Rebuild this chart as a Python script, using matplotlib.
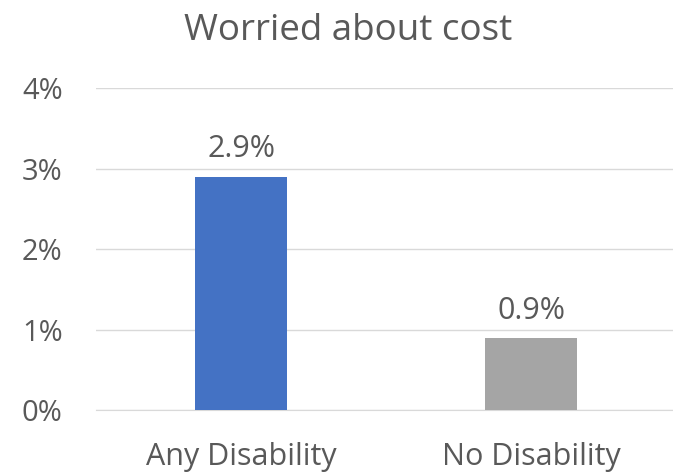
import matplotlib.pyplot as plt
from matplotlib.ticker import PercentFormatter

categories = ["Any Disability", "No Disability"]
values = [0.029, 0.009]
bar_colors = ["#4472C4", "#A5A5A5"]
title = "Worried about cost"

text_color = "#595959"
grid_color = "#D9D9D9"

plt.rcParams['font.family'] = ['Open Sans', 'DejaVu Sans']

fig = plt.figure(figsize=(6.73, 4.73), dpi=100)
ax = fig.add_axes([0.1426, 0.133, 0.862, 0.681])

x = range(len(categories))
bars = ax.bar(x, values, width=0.317, color=bar_colors, zorder=3)

for rect, v in zip(bars, values):
    ax.text(rect.get_x() + rect.get_width() / 2, v + 0.0015, f"{v * 100:.1f}%",
            ha="center", va="bottom", fontsize=22, color=text_color)

ax.set_xlim(-0.5, 1.5)
ax.set_ylim(0, 0.04)
ax.set_yticks([0, 0.01, 0.02, 0.03, 0.04])
ax.yaxis.set_major_formatter(PercentFormatter(1.0, decimals=0))
ax.set_xticks(list(x))
ax.set_xticklabels(categories)

ax.grid(axis="y", color=grid_color, linewidth=1, zorder=0)
for side in ["top", "right", "left"]:
    ax.spines[side].set_visible(False)
ax.spines["bottom"].set_color(grid_color)
ax.tick_params(axis="both", length=0, colors=text_color)
ax.tick_params(axis="y", pad=24, labelsize=21)
ax.tick_params(axis="x", pad=23, labelsize=22)

fig.text(0.518, 0.935, title, ha="center", va="center", fontsize=26.5, color=text_color)

fig.savefig("out.png", dpi=100)
